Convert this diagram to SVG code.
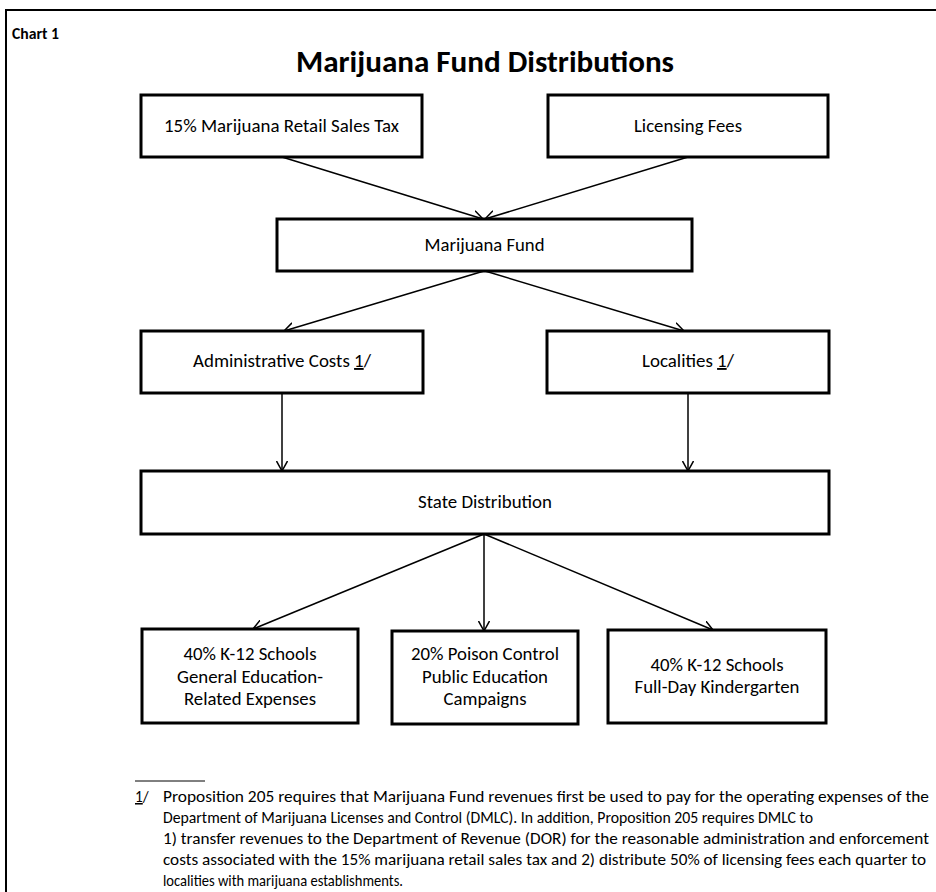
<svg xmlns="http://www.w3.org/2000/svg" width="936" height="892" viewBox="0 0 936 892">
<style>
text{font-family:Carlito,Calibri,Lato,"Liberation Sans",sans-serif;fill:#000}
.box{fill:#fff;stroke:#000;stroke-width:3}
.lbl{font-size:18.67px;text-anchor:middle}
.fn{font-size:15.3px}
.con line{stroke:#000;stroke-width:1.5;marker-end:url(#ah)}
</style>
<defs>
<marker id="ah" viewBox="0 0 10 12" refX="10" refY="6" markerWidth="10" markerHeight="12" orient="auto" markerUnits="userSpaceOnUse">
<path d="M0,0.5 L10,6 L0,11.5" fill="none" stroke="#000" stroke-width="1.5"/>
</marker>
</defs>
<rect width="936" height="892" fill="#fff"/>
<rect x="6" y="10" width="940" height="900" fill="none" stroke="#000" stroke-width="2"/>
<text x="12" y="39" font-size="16.5" font-weight="bold" textLength="47" lengthAdjust="spacingAndGlyphs">Chart 1</text>
<text x="485" y="72" font-size="31" font-weight="bold" text-anchor="middle" textLength="378" lengthAdjust="spacingAndGlyphs">Marijuana Fund Distributions</text>

<g class="con">
<line x1="282" y1="157" x2="483" y2="219"/>
<line x1="688" y1="157" x2="485" y2="219"/>
<line x1="484" y1="271" x2="284" y2="331"/>
<line x1="485" y1="271" x2="684" y2="331"/>
<line x1="282" y1="393" x2="282" y2="471"/>
<line x1="688" y1="393" x2="688" y2="471"/>
<line x1="484" y1="534" x2="253" y2="629"/>
<line x1="484" y1="534" x2="484" y2="631"/>
<line x1="484" y1="534" x2="713" y2="630"/>
</g>

<g id="sales-tax"><rect class="box" x="141" y="95" width="281" height="62"/><text class="lbl" x="281.5" y="132" textLength="235" lengthAdjust="spacingAndGlyphs">15% Marijuana Retail Sales Tax</text></g>
<g id="licensing-fees"><rect class="box" x="548" y="95" width="280" height="62"/><text class="lbl" x="688" y="132" textLength="108" lengthAdjust="spacingAndGlyphs">Licensing Fees</text></g>
<g id="marijuana-fund"><rect class="box" x="277" y="219" width="415" height="52"/><text class="lbl" x="484.5" y="251" textLength="120" lengthAdjust="spacingAndGlyphs">Marijuana Fund</text></g>
<g id="admin-costs"><rect class="box" x="141" y="331" width="282" height="62"/><text class="lbl" x="282" y="367" textLength="178" lengthAdjust="spacingAndGlyphs">Administrative Costs <tspan text-decoration="underline">1</tspan>/</text></g>
<g id="localities"><rect class="box" x="547" y="331" width="282" height="62"/><text class="lbl" x="688" y="367" textLength="92" lengthAdjust="spacingAndGlyphs">Localities <tspan text-decoration="underline">1</tspan>/</text></g>
<g id="state-distribution"><rect class="box" x="141" y="471" width="688" height="63"/><text class="lbl" x="485" y="508" textLength="134" lengthAdjust="spacingAndGlyphs">State Distribution</text></g>
<g id="k12-general"><rect class="box" x="142" y="629" width="216" height="94"/>
<text class="lbl" x="250" y="660" textLength="133" lengthAdjust="spacingAndGlyphs">40% K-12 Schools</text>
<text class="lbl" x="250" y="683" textLength="146" lengthAdjust="spacingAndGlyphs">General Education-</text>
<text class="lbl" x="250" y="705" textLength="132" lengthAdjust="spacingAndGlyphs">Related Expenses</text></g>
<g id="poison-control"><rect class="box" x="392" y="631" width="186" height="93"/>
<text class="lbl" x="485" y="660" textLength="148" lengthAdjust="spacingAndGlyphs">20% Poison Control</text>
<text class="lbl" x="485" y="683" textLength="126" lengthAdjust="spacingAndGlyphs">Public Education</text>
<text class="lbl" x="485" y="705" textLength="83" lengthAdjust="spacingAndGlyphs">Campaigns</text></g>
<g id="k12-kindergarten"><rect class="box" x="608" y="630" width="218" height="93"/>
<text class="lbl" x="717" y="671" textLength="133" lengthAdjust="spacingAndGlyphs">40% K-12 Schools</text>
<text class="lbl" x="717" y="693" textLength="165" lengthAdjust="spacingAndGlyphs">Full-Day Kindergarten</text></g>

<g id="footnote">
<line x1="135" y1="781" x2="205" y2="781" stroke="#000" stroke-width="1"/>
<text class="fn" x="135" y="802"><tspan text-decoration="underline">1</tspan>/</text>
<text class="fn" x="163" y="802" textLength="766" lengthAdjust="spacingAndGlyphs">Proposition 205 requires that Marijuana Fund revenues first be used to pay for the  operating expenses of the</text>
<text class="fn" x="163" y="823" textLength="650" lengthAdjust="spacingAndGlyphs">Department of Marijuana  Licenses and Control (DMLC).  In addition, Proposition 205 requires DMLC to</text>
<text class="fn" x="163" y="844" textLength="766" lengthAdjust="spacingAndGlyphs">1) transfer revenues  to the Department of Revenue (DOR) for the reasonable administration and enforcement</text>
<text class="fn" x="163" y="865" textLength="763" lengthAdjust="spacingAndGlyphs">costs associated with the 15% marijuana retail sales tax and 2) distribute 50% of licensing fees each quarter to</text>
<text class="fn" x="163" y="886" textLength="240" lengthAdjust="spacingAndGlyphs">localities with marijuana establishments.</text>
</g>
</svg>
